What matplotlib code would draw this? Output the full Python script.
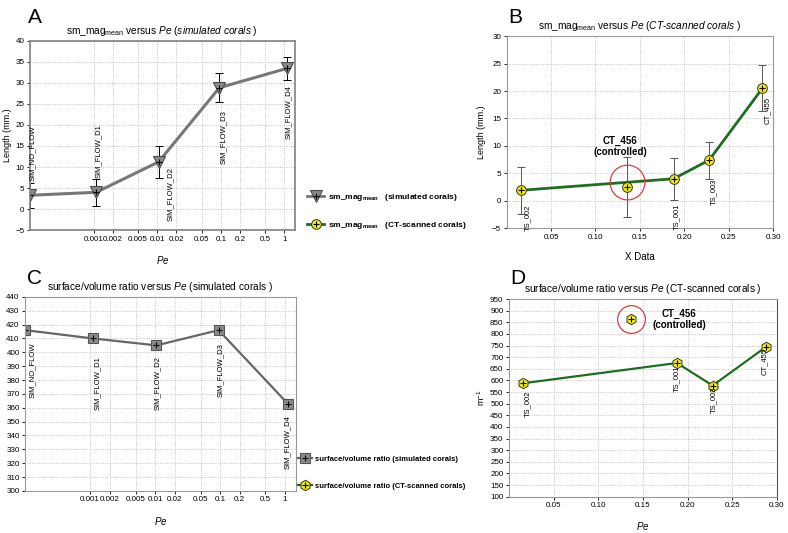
import matplotlib
matplotlib.use('Agg')
import matplotlib.pyplot as plt
from matplotlib.ticker import NullLocator
from matplotlib.legend_handler import HandlerTuple
from matplotlib.lines import Line2D

plt.rcParams['font.family'] = ['Liberation Sans', 'DejaVu Sans']
plt.rcParams['mathtext.fontset'] = 'custom'
plt.rcParams['mathtext.rm'] = 'Liberation Sans'
plt.rcParams['mathtext.it'] = 'Liberation Sans:italic'
plt.rcParams['mathtext.bf'] = 'Liberation Sans:bold'

# simulated corals (SIM_NO_FLOW sits at the left end of the log axis)
sim_names = ['SIM_NO_FLOW', 'SIM_FLOW_D1', 'SIM_FLOW_D2', 'SIM_FLOW_D3', 'SIM_FLOW_D4']
sim_pe = [0.0001, 0.0011, 0.0105, 0.095, 1.1]
sim_mag = [3.3, 4.0, 11.2, 28.8, 33.4]
sim_mag_err = [3.0, 3.2, 3.7, 3.5, 2.7]
sim_sv = [416, 410, 405, 416, 363]

# CT-scanned corals, CT_456 (controlled) drawn on its own
ct_names = ['TS_002', 'TS_001', 'TS_003', 'CT_455']
ct_pe = [0.016, 0.188, 0.228, 0.288]
ct_mag = [1.9, 4.0, 7.4, 20.5]
ct_mag_err = [4.3, 3.8, 3.4, 4.2]
ct_sv = [588, 675, 578, 745]

ctrl_pe = 0.136
ctrl_mag = 2.5
ctrl_mag_err = 5.5
ctrl_sv = 862

log_ticks = [0.001, 0.002, 0.005, 0.01, 0.02, 0.05, 0.1, 0.2, 0.5, 1]
log_labels = ['0.001', '0.002', '0.005', '0.01', '0.02', '0.05', '0.1', '0.2', '0.5', '1']

# label offsets (points) for the rotated point names
off_a = [(2, 10), (1.5, 10), (8.5, -4), (3, -16), (1, -12)]
off_c = [(5, -9), (3.5, -13), (1, -8), (1.5, -9), (0, -8)]
off_b = [(5, -10), (2, -18), (3.5, -13), (3.5, -6)]
off_d = [(3, -5), (0, -2), (1, -1), (-1.5, -0.5)]

GRAY = '#777777'
GREEN = '#1f6e1f'
YELLOW = '#f2ee00'
RED = '#e03a3a'


def tag(ax, x, y, s, off):
    ax.annotate(s, (x, y), xytext=off, textcoords='offset points', rotation=90,
                fontsize=5.5, ha='center', va='bottom' if off[1] > 0 else 'top')


def style(ax, spine='#999999', lw=0.8):
    ax.grid(True, ls=':', color='#b5b5b5', lw=0.6)
    ax.set_axisbelow(True)
    for s in ax.spines.values():
        s.set_color(spine)
        s.set_linewidth(lw)
    ax.tick_params(labelsize=5.8, length=2, width=0.6, pad=2)


def log_axis(ax):
    ax.set_xscale('log')
    ax.set_xlim(1e-4, 1.45)
    ax.set_xticks(log_ticks)
    ax.set_xticklabels(log_labels)
    ax.xaxis.set_minor_locator(NullLocator())


fig = plt.figure(figsize=(7.88, 5.33), dpi=100)

# ---- A
axA = fig.add_axes([0.038, 0.568, 0.336, 0.356])
style(axA, '#808080', 1.2)
log_axis(axA)
axA.errorbar(sim_pe, sim_mag, yerr=sim_mag_err, fmt='none', ecolor='k', elinewidth=0.7, capsize=3, capthick=0.7)
axA.plot(sim_pe, sim_mag, color=GRAY, lw=2.2, marker='v', ms=9, mfc='#8a8a8a', mec='#4d4d4d', mew=0.8)
axA.plot(sim_pe, sim_mag, ls='none', marker='+', ms=4, color='k', mew=0.8)
for x, y, s, o in zip(sim_pe, sim_mag, sim_names, off_a):
    tag(axA, x, y, s, o)
axA.set_ylim(-5, 40)
axA.set_yticks(range(-5, 41, 5))
axA.set_ylabel('Length (mm.)', fontsize=6.5, labelpad=2)
axA.set_xlabel('$\\it{Pe}$', fontsize=7, labelpad=8)
axA.set_title('sm_mag$_{\\rm mean}$ versus $\\it{Pe\\ (simulated\\ corals\\ )}$', fontsize=7.3, pad=5)

# ---- B
axB = fig.add_axes([0.643, 0.572, 0.338, 0.360])
style(axB)
axB.errorbar(ct_pe + [ctrl_pe], ct_mag + [ctrl_mag], yerr=ct_mag_err + [ctrl_mag_err], fmt='none',
             ecolor='#555555', elinewidth=0.7, capsize=3, capthick=0.7)
axB.plot(ct_pe, ct_mag, color=GREEN, lw=2, marker='o', ms=7, mfc=YELLOW, mec='#333333', mew=0.7)
axB.plot(ctrl_pe, ctrl_mag, ls='none', marker='o', ms=7, mfc=YELLOW, mec='#333333', mew=0.7)
axB.plot(ct_pe + [ctrl_pe], ct_mag + [ctrl_mag], ls='none', marker='+', ms=4, color='k', mew=0.8)
axB.plot(ctrl_pe, 3.5, ls='none', marker='o', ms=25, mfc='none', mec=RED, mew=0.9)
axB.annotate('CT_456\n(controlled)', (ctrl_pe, 3.5), xytext=(-5, 18), textcoords='offset points',
             ha='center', va='bottom', fontsize=7, fontweight='bold', linespacing=1.1)
for x, y, s, o in zip(ct_pe, ct_mag, ct_names, off_b):
    tag(axB, x, y, s, o)
axB.set_xlim(0, 0.30)
axB.set_xticks([0.05, 0.10, 0.15, 0.20, 0.25, 0.30])
axB.set_xticklabels(['0.05', '0.10', '0.15', '0.20', '0.25', '0.30'])
axB.set_ylim(-5, 30)
axB.set_yticks(range(-5, 31, 5))
axB.set_ylabel('Length (mm.)', fontsize=6.5, labelpad=4)
axB.set_xlabel('X Data', fontsize=7, labelpad=8)
axB.set_title('sm_mag$_{\\rm mean}$ versus $\\it{Pe\\ (CT\\text{-}scanned\\ corals\\ )}$', fontsize=7.3, pad=5)

# ---- C
axC = fig.add_axes([0.032, 0.079, 0.343, 0.364])
style(axC)
log_axis(axC)
axC.plot(sim_pe, sim_sv, color='#666666', lw=1.6, marker='s', ms=7, mfc='#8a8a8a', mec='#555555', mew=0.8)
axC.plot(sim_pe, sim_sv, ls='none', marker='+', ms=4, color='k', mew=0.8)
for x, y, s, o in zip(sim_pe, sim_sv, sim_names, off_c):
    tag(axC, x, y, s, o)
axC.set_ylim(300, 440)
axC.set_yticks(range(300, 441, 10))
axC.set_xlabel('$\\it{Pe}$', fontsize=7, labelpad=8)
axC.set_title('surface/volume ratio versus $\\it{Pe}$ (simulated corals )', fontsize=7.3, pad=5)

# ---- D
axD = fig.add_axes([0.646, 0.068, 0.340, 0.371])
style(axD)
axD.spines['right'].set_color('#555555')
axD.plot(ct_pe, ct_sv, color=GREEN, lw=1.6, marker='h', ms=7.5, mfc=YELLOW, mec='#333333', mew=0.7)
axD.plot(ctrl_pe, ctrl_sv, ls='none', marker='h', ms=7.5, mfc=YELLOW, mec='#333333', mew=0.7)
axD.plot(ct_pe + [ctrl_pe], ct_sv + [ctrl_sv], ls='none', marker='+', ms=4, color='k', mew=0.8)
axD.plot(ctrl_pe, ctrl_sv, ls='none', marker='o', ms=20, mfc='none', mec=RED, mew=0.9)
axD.annotate('CT_456\n(controlled)', (ctrl_pe, ctrl_sv), xytext=(35, 0), textcoords='offset points',
             ha='center', va='center', fontsize=7, fontweight='bold', linespacing=1.1)
for x, y, s, o in zip(ct_pe, ct_sv, ct_names, off_d):
    tag(axD, x, y, s, o)
axD.set_xlim(0, 0.30)
axD.set_xticks([0.05, 0.10, 0.15, 0.20, 0.25, 0.30])
axD.set_xticklabels(['0.05', '0.10', '0.15', '0.20', '0.25', '0.30'])
axD.set_ylim(100, 950)
axD.set_yticks(range(100, 951, 50))
axD.set_ylabel('m$^{-1}$', fontsize=6.5, labelpad=2)
axD.set_xlabel('$\\it{Pe}$', fontsize=7, labelpad=8)
axD.set_title('surface/volume ratio versus $\\it{Pe}$ (CT-scanned corals )', fontsize=7.3, pad=5)

# panel letters
for s, x, y in [('A', 0.036, 0.968), ('B', 0.645, 0.968), ('C', 0.034, 0.478), ('D', 0.647, 0.478)]:
    fig.text(x, y, s, fontsize=15, ha='left', va='center')

# legends between the panels
plus = Line2D([], [], ls='none', marker='+', ms=4, color='k', mew=0.8)
h_sim = Line2D([], [], color=GRAY, lw=2, marker='v', ms=9, mfc='#8a8a8a', mec='#4d4d4d', mew=0.8)
h_ct = Line2D([], [], color=GREEN, lw=2, marker='o', ms=7, mfc=YELLOW, mec='#333333', mew=0.7)
fig.legend([(h_sim, plus), (h_ct, plus)],
           ['sm_mag$_{\\bf mean}$   (simulated corals)', 'sm_mag$_{\\bf mean}$   (CT-scanned corals)'],
           handler_map={tuple: HandlerTuple(ndivide=1)}, loc='upper left',
           bbox_to_anchor=(0.390, 0.640), frameon=False, handlelength=2.0, handletextpad=0.5,
           labelspacing=2.0, borderpad=0, borderaxespad=0, prop={'size': 6, 'weight': 'bold'})

h_sq = Line2D([], [], color='#666666', lw=1.6, marker='s', ms=7, mfc='#8a8a8a', mec='#555555', mew=0.8)
h_hx = Line2D([], [], color=GREEN, lw=1.6, marker='h', ms=7.5, mfc=YELLOW, mec='#333333', mew=0.7)
fig.legend([(h_sq, plus), (h_hx, plus)],
           ['surface/volume ratio (simulated corals)', 'surface/volume ratio (CT-scanned corals)'],
           handler_map={tuple: HandlerTuple(ndivide=1)}, loc='upper left',
           bbox_to_anchor=(0.378, 0.145), frameon=False, handlelength=1.8, handletextpad=0.4,
           labelspacing=2.5, borderpad=0, borderaxespad=0, prop={'size': 5.5, 'weight': 'bold'})

fig.savefig('out.png', dpi=100)
